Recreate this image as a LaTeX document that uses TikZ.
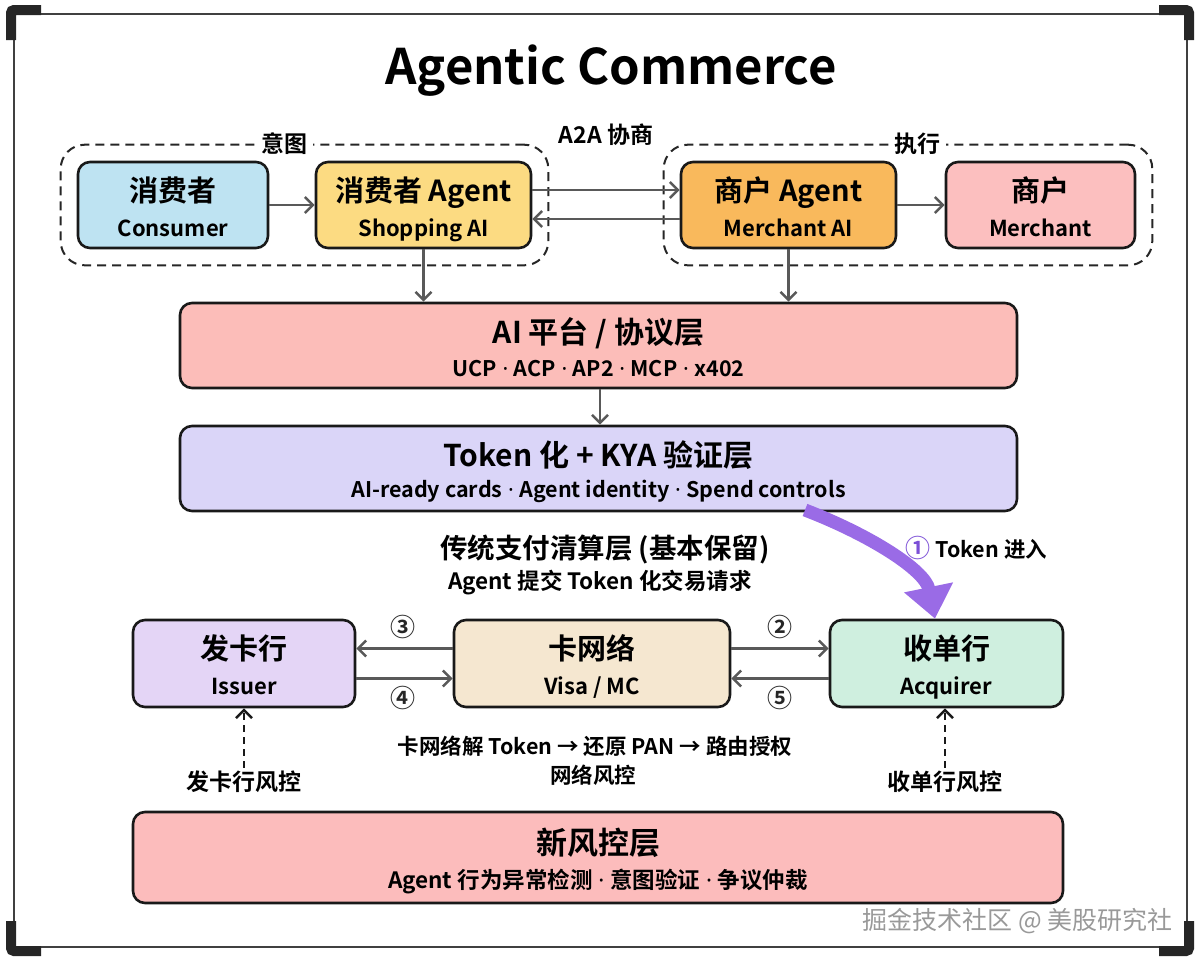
\documentclass[tikz,border=0pt]{standalone}
\usepackage{fontspec}
\setmainfont{Noto Sans CJK SC}[BoldFont={* Bold}]
\newfontfamily\latinfont{Noto Sans}
\usepackage{tikz}
\usetikzlibrary{arrows.meta,positioning,calc,fit}

\definecolor{consfill}{HTML}{BEE3F2}
\definecolor{shopfill}{HTML}{FCDB82}
\definecolor{maifill}{HTML}{F9B95C}
\definecolor{merfill}{HTML}{FCBFBF}
\definecolor{platfill}{HTML}{FCBDB9}
\definecolor{tokfill}{HTML}{DAD5F8}
\definecolor{issfill}{HTML}{E4D5F6}
\definecolor{netfill}{HTML}{F5E7D0}
\definecolor{acqfill}{HTML}{CFEFDF}
\definecolor{riskfill}{HTML}{FCBCBC}
\definecolor{tokarrow}{HTML}{9A6BE6}
\definecolor{tokmark}{HTML}{7B4FD6}

\newcommand{\md}{{\latinfont\bfseries\ ·\ }}
% two text lines inside a box: name, head, sub, head size, sub size, head shift, sub shift
\newcommand{\boxtext}[7]{%
  \node[anchor=base,font=\bfseries\fontsize{#4}{#4}\selectfont] (#1-head) at ([yshift=#6]#1.center) {#2};
  \node[anchor=base,font=\bfseries\fontsize{#5}{#5}\selectfont] (#1-sub) at ([yshift=#7]#1.center) {#3};}

\begin{document}
\begin{tikzpicture}[x=1pt,y=-1pt,font=\bfseries,
  box/.style={draw=black!90,line width=2.6pt,rounded corners=12pt,inner sep=0pt},
  link/.style={draw=black!65,line width=2.6pt,-{Straight Barb[length=8pt,width=16pt]}},
  risklink/.style={draw=black!90,line width=2.6pt,dash pattern=on 7pt off 5pt,-{Straight Barb[length=8pt,width=16pt]}},
  grp/.style={draw=black!85,line width=2pt,dash pattern=on 9pt off 6pt,rounded corners=24pt,inner sep=16pt},
  tag/.style={fill=white,inner sep=5pt,font=\bfseries\fontsize{23}{26}\selectfont},
  note/.style={font=\bfseries\fontsize{21.5}{24}\selectfont},
  stepno/.style={font=\bfseries\fontsize{25}{26}\selectfont,text=black!85}]
\useasboundingbox (0,0) rectangle (1200,961);

% frame
\draw[line width=2pt,black!75] (14,14) rectangle (1187,947);
\foreach \cx/\cy/\dx/\dy in {11/10/1/1,1189/10/-1/1,11/951/1/-1,1189/951/-1/-1}
  \draw[line width=10pt,black!85,rounded corners=3pt] (\cx,\cy+30*\dy) -- (\cx,\cy) -- (\cx+30*\dx,\cy);

\node[font=\bfseries\fontsize{49}{54}\selectfont] (title) at (611,71) {Agentic Commerce};

% agents
\node[box,fill=consfill,minimum width=190pt,minimum height=86pt] (cons) at (173,205) {};
\node[box,fill=shopfill,minimum width=215pt,minimum height=86pt] (shop) at (423.5,205) {};
\node[box,fill=maifill,minimum width=215pt,minimum height=86pt] (mai) at (788.5,205) {};
\node[box,fill=merfill,minimum width=189pt,minimum height=86pt] (mer) at (1040.5,205) {};
\boxtext{cons}{消费者}{Consumer}{29}{22}{4pt}{-31pt}
\boxtext{shop}{消费者 Agent}{Shopping AI}{29}{22}{4pt}{-31pt}
\boxtext{mai}{商户 Agent}{Merchant AI}{29}{22}{4pt}{-31pt}
\boxtext{mer}{商户}{Merchant}{29}{22}{4pt}{-31pt}

\node[grp,fit=(cons)(shop)] (intent) {};
\node[grp,fit=(mai)(mer)] (exec) {};
\node[tag] (intenttag) at ($(intent.north west)!0.46!(intent.north east)$) {意图};
\node[tag] (exectag) at ($(exec.north west)!0.52!(exec.north east)$) {执行};
\node[tag] (a2a) at (606,135) {A2A 协商};

\draw[link] (cons) -- (shop);
\draw[link] ([yshift=15pt]shop.east) -- ([yshift=15pt]mai.west);
\draw[link] ([yshift=-14pt]mai.west) -- ([yshift=-14pt]shop.east);
\draw[link] (mai) -- (mer);

% layers
\node[box,fill=platfill,minimum width=837pt,minimum height=85pt] (plat) at (598.5,345.5) {};
\node[box,fill=tokfill,minimum width=837pt,minimum height=85pt] (tok) at (598.5,468.5) {};
\boxtext{plat}{AI 平台 / 协议层}{UCP\md ACP\md AP2\md MCP\md x402}{30}{21.5}{2pt}{-31pt}
\boxtext{tok}{Token 化 + KYA 验证层}{AI-ready cards\md Agent identity\md Spend controls}{30}{21.5}{2pt}{-29pt}

\draw[link] (shop.south) -- (shop.south |- plat.north);
\draw[link] (mai.south) -- (mai.south |- plat.north);
\draw[link] (plat.south -| 600,0) -- (tok.north -| 600,0);

\node[font=\bfseries\fontsize{27.5}{30}\selectfont] (legacy) at (605,549) {传统支付清算层 (基本保留)};
\node[font=\bfseries\fontsize{22.5}{24}\selectfont] (legacysub) at (600,583) {Agent 提交 Token 化交易请求};

% payment rails
\node[box,fill=issfill,minimum width=222pt,minimum height=87pt] (iss) at (244,663.5) {};
\node[box,fill=netfill,minimum width=276pt,minimum height=87pt] (net) at (592,663.5) {};
\node[box,fill=acqfill,minimum width=233pt,minimum height=87pt] (acq) at (946.5,663.5) {};
\boxtext{iss}{发卡行}{Issuer}{29}{22}{4.5pt}{-30.5pt}
\boxtext{net}{卡网络}{Visa / MC}{29}{22}{4.5pt}{-30.5pt}
\boxtext{acq}{收单行}{Acquirer}{29}{22}{4.5pt}{-30.5pt}

\draw[link] ([yshift=15pt]net.west) -- ([yshift=15pt]iss.east);
\draw[link] ([yshift=-15pt]iss.east) -- ([yshift=-15pt]net.west);
\draw[link] ([yshift=15pt]net.east) -- ([yshift=15pt]acq.west);
\draw[link] ([yshift=-15pt]acq.west) -- ([yshift=-15pt]net.east);
\node[stepno] (s3) at (403,627) {③};
\node[stepno] (s4) at (403,698) {④};
\node[stepno] (s2) at (780,627) {②};
\node[stepno] (s5) at (780,698) {⑤};

\draw[draw=tokarrow,line width=13pt,-{Triangle[length=32pt,width=48pt]}]
  (805,510) .. controls (870,535) and (925,570) .. (acq.north -| 935,0);
\node[note,anchor=west] (tokin) at (902,548) {\textcolor{tokmark}{\fontsize{25}{26}\selectfont ①} Token 进入};

\node[note] (netnote) at (595,746) {卡网络解 Token → 还原 PAN → 路由授权};
\node[note] (netrisk) at (593,775) {网络风控};
\node[note,font=\bfseries\fontsize{23}{24}\selectfont] (issrisk) at (244,782) {发卡行风控};
\node[note,font=\bfseries\fontsize{23}{24}\selectfont] (acqrisk) at (945,782) {收单行风控};
\draw[risklink] (issrisk.north) -- (iss.south);
\draw[risklink] (acqrisk.north) -- (acqrisk.north |- acq.south);

\node[box,fill=riskfill,minimum width=930pt,minimum height=91pt] (risk) at (598,857.5) {};
\boxtext{risk}{新风控层}{Agent 行为异常检测\md 意图验证\md 争议仲裁}{31}{22.5}{3.5pt}{-30.5pt}

\node[anchor=east,font=\fontsize{25}{26}\selectfont,text=black!40] (mark) at (1176,921) {掘金技术社区 @ 美股研究社};
\end{tikzpicture}
\end{document}
